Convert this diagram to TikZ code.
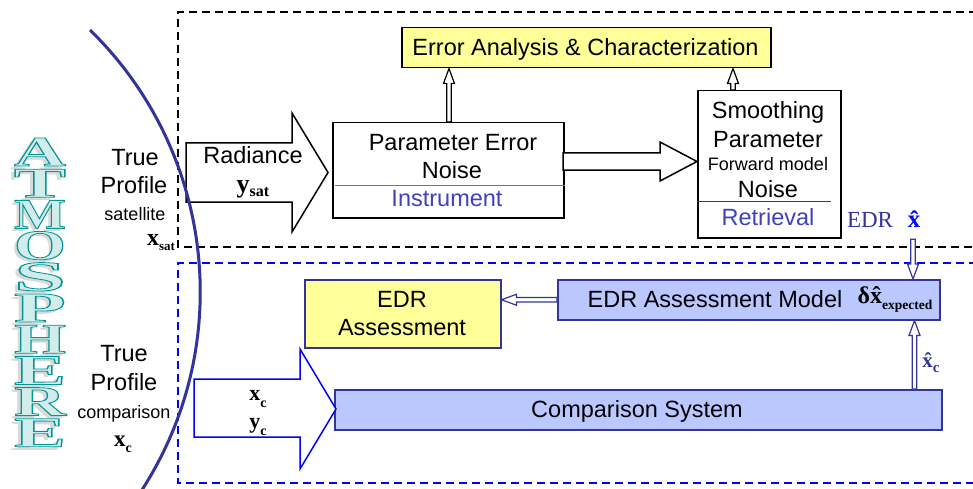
\documentclass[tikz,border=0pt]{standalone}
\usepackage{fontspec}
\setmainfont{Liberation Sans}
\newfontfamily\tms{Liberation Serif}
\usetikzlibrary{calc}
\definecolor{navy}{RGB}{51,51,153}
\definecolor{ylw}{RGB}{255,255,153}
\definecolor{lblue}{RGB}{187,200,255}
\definecolor{tealc}{RGB}{0,150,150}
\definecolor{tealpale}{RGB}{210,236,236}
\definecolor{instr}{RGB}{64,64,192}
\definecolor{pblue}{RGB}{0,0,255}
\definecolor{lineb}{RGB}{100,100,255}
\newcommand\outlined[1]{{\color{tealpale}\special{pdf:literal direct 2 Tr 0.75 w 0 0.588 0.588 RG}#1\special{pdf:literal direct 0 Tr}}}
\newcommand\atmletter[1]{\resizebox{52pt}{28pt}{\fontsize{40}{40}\selectfont\tms\bfseries\rlap{\kern-1.7pt\raisebox{-3pt}[0pt][0pt]{\color{gray!30}#1}}\outlined{#1}}}
\newcommand\symlab[5]{{\fontsize{#1}{#1}\selectfont\tms\bfseries #2\raisebox{-#5}{\fontsize{#3}{#3}\selectfont #4}}}
\newcommand\hollowarrow[3][black]{%
  \path (#2) coordinate (ha-s) (#3) coordinate (ha-t);
  \path ($(ha-t)!15pt!(ha-s)$) coordinate (ha-b);
  \draw[#1, line width=1.2pt, fill=white, line join=miter]
   ($(ha-s)!2.3pt!90:(ha-t)$) -- ($(ha-b)!2.3pt!-90:(ha-s)$) -- ($(ha-b)!5.5pt!-90:(ha-s)$) -- (ha-t)
   -- ($(ha-b)!5.5pt!90:(ha-s)$) -- ($(ha-b)!2.3pt!90:(ha-s)$) -- ($(ha-s)!2.3pt!-90:(ha-t)$) -- cycle;}
\tikzset{
  box/.style={draw, line width=1.5pt, inner sep=0pt, anchor=north west},
  txt/.style={anchor=base, inner sep=0pt, font=\fontsize{23.5}{27}\selectfont},
  stxt/.style={anchor=base, inner sep=0pt, font=\fontsize{18}{21}\selectfont},
  lab/.style={anchor=base, inner sep=0pt},
  bdash/.style={line width=1.5pt, dash pattern=on 8pt off 5pt},
}
\begin{document}
\begin{tikzpicture}[x=1pt,y=-1pt]
\useasboundingbox (0,0) rectangle (973,489);
\fill[white] (0,0) rectangle (973,489);

% dashed regions
\draw[bdash, black] (990,12) -- (178,12) -- (178,247) -- (990,247);
\draw[bdash, pblue] (990,263) -- (178,263) -- (178,483) -- (990,483);

% ATMOSPHERE letters
\foreach \L [count=\i from 0] in {A,T,M,O,S,P,H,E,R,E} {
  \node[inner sep=0pt] (lt\i) at (40, 152+31.2*\i) {\atmletter{\L}};
}

% boxes
\node[box, fill=ylw, minimum width=369, minimum height=40] (ea) at (401,27) {};
\node[txt] (eat) at (585.5,55.5) {Error Analysis \& Characterization};

\node[box, fill=white, minimum width=231, minimum height=95] (pe) at (332,122) {};
\node[txt] (pe1) at (453,151) {Parameter Error};
\node[txt] (pe2) at (452,178.5) {Noise};
\draw[lineb, line width=1pt] ($(pe.west)+(3,15.5)$) coordinate (pl1) -- (pl1 -| pe.east);
\node[txt, text=instr] (pe3) at (447,206) {Instrument};

\node[box, fill=white, minimum width=143, minimum height=147] (sm) at (697,90) {};
\node[txt] (sm1) at (768,119) {Smoothing};
\node[txt] (sm2) at (768,148) {Parameter};
\node[stxt] (sm3) at (768,171) {Forward model};
\node[txt] (sm4) at (768,197) {Noise};
\draw[navy, line width=1pt] ($(sm.west)+(0,37.5)$) coordinate (sl1) -- ++(134,0);
\node[txt, text=instr] (sm5) at (768,225) {Retrieval};

\node[box, draw=navy, fill=ylw, minimum width=196, minimum height=68] (edra) at (304,279) {};
\node[txt] (edra1) at (402,307) {EDR};
\node[txt] (edra2) at (402,335) {Assessment};

\node[box, draw=navy, fill=lblue, minimum width=382, minimum height=40] (model) at (557,279) {};
\node[txt] (modelt) at (715,307.3) {EDR Assessment Model};
\node[lab] (dx) at (895,303) {\symlab{24}{δ\^x}{13.5}{expected}{6pt}};

\node[box, draw=navy, fill=lblue, minimum width=607, minimum height=40] (comp) at (334,389) {};
\node[txt] (compt) at (637,417) {Comparison System};

% labels EDR xhat
\node[lab, text=navy] (edrl) at (870,227) {\fontsize{23}{23}\selectfont\tms EDR};
\node[lab, text=pblue] (xhat) at (914,227) {\fontsize{25}{25}\selectfont\tms\bfseries\^x};
\node[lab, text=navy] (xhc) at (931,367) {\symlab{21}{\^x}{15}{c}{5pt}};

% left texts
\node[txt] (tp1) at (135,165) {True};
\node[txt] (tp2) at (134,193) {Profile};
\node[stxt] (tp3) at (135,220.5) {satellite};
\node[lab] (xsat) at (161,245) {\symlab{24}{x}{13}{sat}{5pt}};
\node[txt] (tc1) at (124,361.5) {True};
\node[txt] (tc2) at (124,390) {Profile};
\node[stxt] (tc3) at (124,418) {comparison};
\node[lab] (xcl) at (123,446) {\symlab{23}{x}{14}{c}{6pt}};

% block arrows
\coordinate (radtip) at (328,172.5);
\draw[line width=1.5pt, fill=white, line join=miter] (186,143) -- (292,143) -- (292,113) -- (radtip) -- (292,232) -- (292,202) -- (186,202) -- cycle;
\node[txt] (rad) at (253,164) {Radiance};
\node[lab] (ysat) at (253,192) {\symlab{26}{y}{16}{sat}{5pt}};

\coordinate (midtip) at (697,161.5);
\draw[line width=1.5pt, fill=white, line join=miter] (563,153) -- (660,153) -- (660,142) -- (midtip) -- (660,181) -- (660,170) -- (563,170) -- cycle;

\coordinate (comptip) at (336,409);
\draw[pblue, line width=1.5pt, fill=white, line join=miter] (194,379) -- (300,379) -- (300,349) -- (comptip) -- (300,469) -- (300,437) -- (194,437) -- cycle;
\node[lab] (xc) at (258,400) {\symlab{22}{x}{14}{c}{7pt}};
\node[lab] (yc) at (258,428) {\symlab{22}{y}{14}{c}{7pt}};

% hollow arrows
\coordinate (a1s) at ($(pe.north west)+(117,0)$);
\coordinate (a2s) at ($(sm.north west)+(36,0)$);
\coordinate (a4s) at ($(xhat.south)+(-1,12)$);
\coordinate (a5s) at ($(comp.north east)+(-28,0)$);
\hollowarrow{a1s}{a1s |- ea.south}
\hollowarrow{a2s}{a2s |- ea.south}
\hollowarrow[navy]{model.west}{model.west -| edra.east}
\hollowarrow[navy]{a4s}{a4s |- model.north}
\hollowarrow[navy]{a5s}{a5s |- model.south}

% atmosphere arc
\draw[navy, line width=3pt] (90,30) arc[start angle=45.67, end angle=-32.8, radius=366pt];
\end{tikzpicture}
\end{document}
